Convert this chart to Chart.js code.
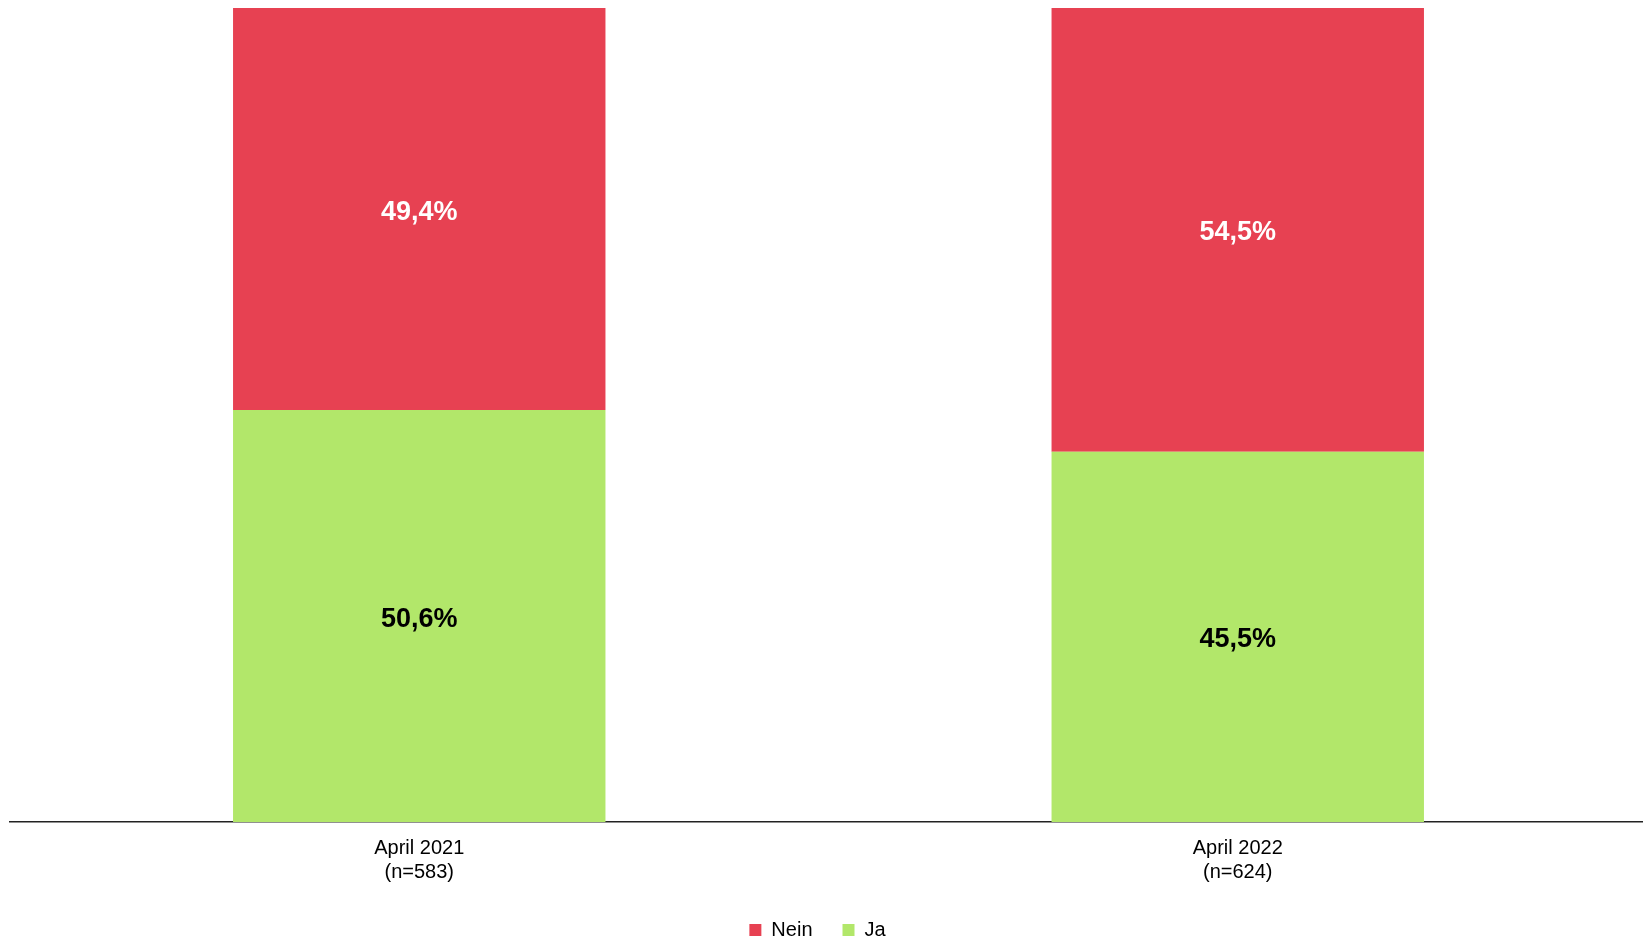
<!DOCTYPE html>
<html>
<head>
<meta charset="utf-8">
<script src="https://cdn.jsdelivr.net/npm/chart.js@4.4.1/dist/chart.umd.min.js"></script>
<style>
	html, body { margin: 0; padding: 0; background: #fff; overflow: hidden; }
	#wrap { width: 1647px; height: 942px; }
</style>
</head>
<body>
<div id="wrap"><canvas id="umfrage"></canvas></div>
<script>
const labels = [["April 2021", "(n=583)"], ["April 2022", "(n=624)"]];
const ja = [50.6, 45.5];
const nein = [49.4, 54.5];

const fmt = v => v.toFixed(1).replace(".", ",") + "%";

// Werte mittig in die Segmente schreiben
const segmentLabels = {
	id: "segmentLabels",
	afterDatasetsDraw(chart) {
		const ctx = chart.ctx;
		ctx.save();
		ctx.font = "bold 27px 'Liberation Sans', Arial, sans-serif";
		ctx.textAlign = "center";
		ctx.textBaseline = "middle";
		chart.data.datasets.forEach((ds, i) => {
			chart.getDatasetMeta(i).data.forEach((bar, j) => {
				ctx.fillStyle = ds.labelColor;
				ctx.fillText(fmt(ds.data[j]), bar.x, (bar.y + bar.base) / 2 + 3);
			});
		});
		ctx.restore();
	}
};

// Legende etwas nach links ruecken (Canvas ist breiter als das Fenster)
const legendShift = {
	id: "legendShift",
	afterLayout(chart) {
		chart.legend.left -= 11;
		chart.legend.right -= 11;
	}
};

new Chart(document.getElementById("umfrage"), {
	type: "bar",
	data: {
		labels: labels,
		datasets: [
			{ label: "Ja", data: ja, backgroundColor: "#B2E76A", labelColor: "#000" },
			{ label: "Nein", data: nein, backgroundColor: "#E74152", labelColor: "#fff" },
		]
	},
	options: {
		responsive: true,
		maintainAspectRatio: false,
		animation: false,
		datasets: { bar: { categoryPercentage: 1, barPercentage: 0.455 } },
		layout: { padding: { left: 10, top: 8, right: 0, bottom: -8 } },
		scales: {
			x: {
				stacked: true,
				grid: { display: false },
				border: { color: "#222", width: 1.5 },
				ticks: { color: "#000", font: { family: "'Liberation Sans', Arial", size: 20 }, padding: 6 }
			},
			y: { stacked: true, display: false, min: 0, max: 100 }
		},
		plugins: {
			legend: {
				position: "bottom",
				reverse: true,
				labels: {
					color: "#000",
					boxWidth: 12,
					boxHeight: 12,
					padding: 30,
					font: { family: "'Liberation Sans', Arial", size: 20 }
				}
			},
			tooltip: { enabled: false }
		}
	},
	plugins: [segmentLabels, legendShift]
});
</script>
</body>
</html>
